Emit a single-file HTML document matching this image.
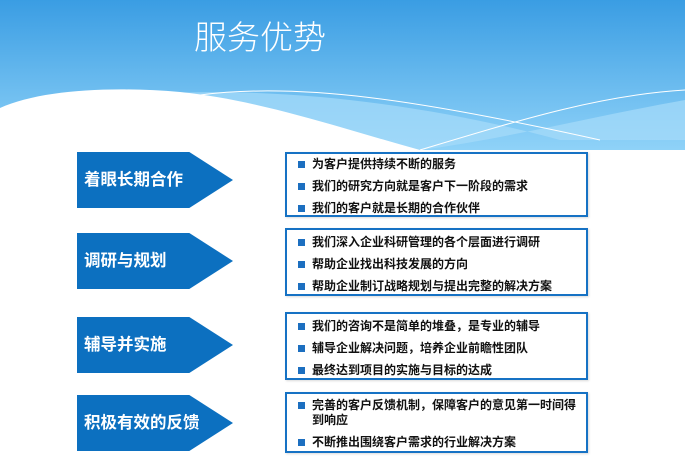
<!DOCTYPE html>
<html><head><meta charset="utf-8"><style>
body{margin:0;width:685px;height:461px;overflow:hidden;background:#fff;font-family:"Liberation Sans","Noto Sans CJK SC",sans-serif;position:relative}
.t{position:absolute;left:160px;top:10px;width:200px;text-align:center;color:#fff;font-size:33px;font-weight:300;letter-spacing:0;line-height:50px;white-space:nowrap;font-family:"Noto Sans CJK SC",sans-serif}
.ar{position:absolute;left:77px;width:156px;height:56px;background:#0c70c0;clip-path:polygon(0 0,72% 0,100% 50%,72% 100%,0 100%);color:#fff;font-weight:bold;font-size:16.5px;line-height:56px;padding-left:7px;box-sizing:border-box}
.bx{position:absolute;left:285px;width:303px;border:2px solid #1672c4;box-sizing:border-box;box-shadow:1px 1px 2px rgba(0,0,0,.15)}
.bx div{position:relative;padding-left:25px;font-size:12px;font-weight:bold;color:#111;line-height:15px;margin:0}
.bx div:before{content:"";position:absolute;left:11px;top:4px;width:7px;height:7px;background:#1c6fc0}
</style></head><body>
<svg width="685" height="150" style="position:absolute;left:0;top:0">
<defs><linearGradient id="g" x1="0" y1="0" x2="0" y2="1"><stop offset="0" stop-color="#3a9de3"/><stop offset="1" stop-color="#8fd2f8"/></linearGradient></defs>
<rect width="685" height="150" fill="url(#g)"/>
<path d="M150 94 C300 85 450 110 560 140 L685 140 L685 100 C600 115 500 140 420 150 L150 150Z" fill="#a6dcfa" opacity="0.7"/>
<path d="M0 108 C40 90 110 86 180 92 C260 100 340 128 420 150 L0 150Z" fill="#fff"/>
<path d="M200 95 C300 82 420 100 600 140" stroke="#fff" stroke-width="1" fill="none"/>
<path d="M420 150 C520 120 600 95 685 90" stroke="#fff" stroke-width="1" fill="none"/>
</svg>
<div class="t">服务优势</div>
<div class="ar" style="top:152px">着眼长期合作</div>
<div class="ar" style="top:233px">调研与规划</div>
<div class="ar" style="top:317px">辅导并实施</div>
<div class="ar" style="top:395px">积极有效的反馈</div>
<div class="bx" style="top:152px;height:65px;padding-top:3px"><div style="margin-bottom:7px">为客户提供持续不断的服务</div><div style="margin-bottom:7px">我们的研究方向就是客户下一阶段的需求</div><div>我们的客户就是长期的合作伙伴</div></div>
<div class="bx" style="top:228px;height:68px;padding-top:5px"><div style="margin-bottom:7px">我们深入企业科研管理的各个层面进行调研</div><div style="margin-bottom:7px">帮助企业找出科技发展的方向</div><div>帮助企业制订战略规划与提出完整的解决方案</div></div>
<div class="bx" style="top:312px;height:68px;padding-top:5px"><div style="margin-bottom:7px">我们的咨询不是简单的堆叠，是专业的辅导</div><div style="margin-bottom:7px">辅导企业解决问题，培养企业前瞻性团队</div><div>最终达到项目的实施与目标的达成</div></div>
<div class="bx" style="top:392px;height:61px;padding-top:4px"><div style="margin-bottom:7px;padding-right:6px">完善的客户反馈机制，保障客户的意见第一时间得到响应</div><div>不断推出围绕客户需求的行业解决方案</div></div>
</body></html>
